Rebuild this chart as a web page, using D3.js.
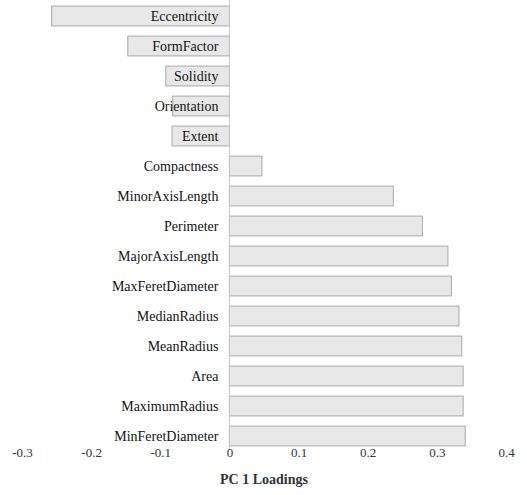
<!DOCTYPE html>
<html>
<head>
<meta charset="utf-8">
<script src="https://cdn.jsdelivr.net/npm/d3@7"></script>
<style>
  html, body { margin: 0; padding: 0; background: #fff; }
  svg { display: block; }
</style>
</head>
<body>
<svg id="chart" width="527" height="495"></svg>
<script>
// PC 1 loadings per feature, top to bottom
const features = ["Eccentricity", "FormFactor", "Solidity", "Orientation", "Extent",
  "Compactness", "MinorAxisLength", "Perimeter", "MajorAxisLength", "MaxFeretDiameter",
  "MedianRadius", "MeanRadius", "Area", "MaximumRadius", "MinFeretDiameter"];
const loadings = [-0.257, -0.147, -0.092, -0.082, -0.083,
  0.047, 0.237, 0.279, 0.316, 0.321,
  0.332, 0.336, 0.338, 0.338, 0.341];
const tickValues = [-0.3, -0.2, -0.1, 0, 0.1, 0.2, 0.3, 0.4];
const tickLabels = ["-0.3", "-0.2", "-0.1", "0", "0.1", "0.2", "0.3", "0.4"];
const axisTitle = "PC 1 Loadings";

const serif = "'Liberation Serif', 'Times New Roman', Times, 'DejaVu Serif', serif";

const svg = d3.select("#chart");

const x = d3.scaleLinear().domain([-0.3, 0.4]).range([22, 506]);
const y = d3.scaleBand().domain(features).range([1, 451]).paddingInner(0.34).paddingOuter(0.17);

// bars
svg.append("g").selectAll("rect")
  .data(features)
  .join("rect")
  .attr("x", (d, i) => Math.min(x(0), x(loadings[i])))
  .attr("y", d => y(d))
  .attr("width", (d, i) => Math.abs(x(loadings[i]) - x(0)))
  .attr("height", y.bandwidth())
  .attr("fill", "#e8e8e8")
  .attr("stroke", "#a8a8a8")
  .attr("stroke-width", 1);

// zero line
svg.append("line")
  .attr("x1", x(0)).attr("x2", x(0))
  .attr("y1", 0).attr("y2", 451)
  .attr("stroke", "#c8c8c8")
  .attr("stroke-width", 1);

// feature labels, right-aligned beside the zero line
svg.append("g").selectAll("text")
  .data(features)
  .join("text")
  .attr("x", x(0) - 11)
  .attr("y", d => y(d) + y.bandwidth() / 2)
  .attr("dy", "0.35em")
  .attr("text-anchor", "end")
  .style("font-family", serif)
  .style("font-size", "14px")
  .style("fill", "#111")
  .text(d => d);

// x axis: labels only
const axis = d3.axisBottom(x)
  .tickValues(tickValues)
  .tickFormat((d, i) => tickLabels[i])
  .tickSize(0)
  .tickPadding(0);
const gx = svg.append("g").attr("transform", "translate(0,448)").call(axis);
gx.select(".domain").remove();
gx.selectAll("text")
  .style("font-family", serif)
  .style("font-size", "13px")
  .style("fill", "#333")
  .attr("dy", "0.71em");

svg.append("text")
  .attr("x", x(0.05))
  .attr("y", 484)
  .attr("text-anchor", "middle")
  .style("font-family", serif)
  .style("font-size", "14px")
  .style("font-weight", "bold")
  .style("fill", "#333")
  .text(axisTitle);
</script>
</body>
</html>
